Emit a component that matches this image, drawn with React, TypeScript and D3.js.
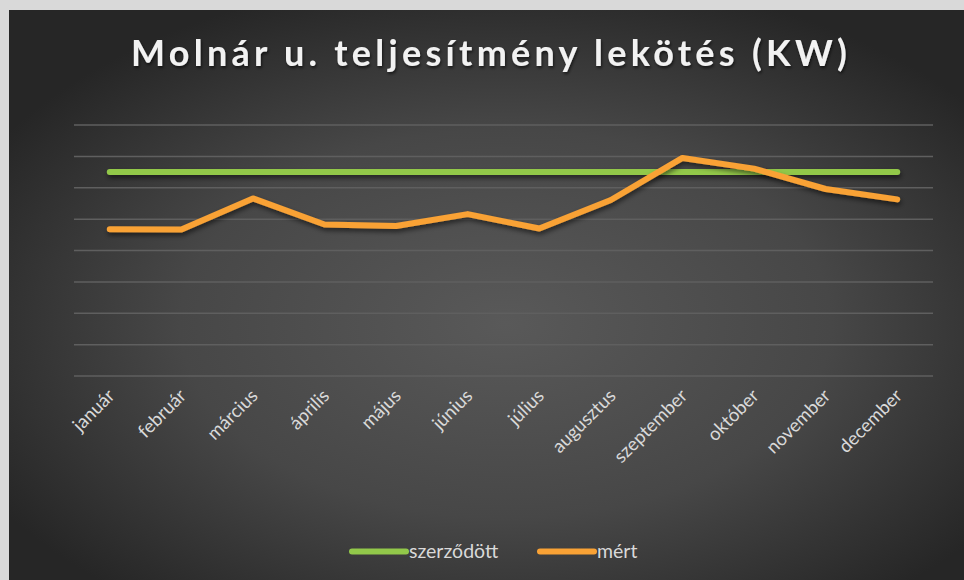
import React from "react";
import * as d3 from "d3";

const months = ["január","február","március","április","május","június","július","augusztus","szeptember","október","november","december"];
const contracted = [65,65,65,65,65,65,65,65,65,65,65,65];
const measured = [46.8,46.7,56.6,48.3,47.8,51.6,47.0,56.1,69.5,66.1,59.6,56.3];
const yTicks = [0,10,20,30,40,50,60,70,80];
const seriesNames = ["szerződött","mért"];
const colors = ["#92C84A","#F9A235"];

const W = 964, H = 580;
const plot = { left: 74, right: 933, top: 125, bottom: 376 };

export default function App() {
  const x = d3.scaleBand().domain(months).range([plot.left, plot.right]);
  const y = d3.scaleLinear().domain([0, 80]).range([plot.bottom, plot.top]);
  const cx = (m: string) => (x(m) as number) + x.bandwidth() / 2;
  const line = d3.line<number>().x((_, i) => cx(months[i])).y(d => y(d));
  const font = "'Lato', 'Open Sans', sans-serif";
  return (
    <div style={{ position: "absolute", left: 0, top: 0, width: W, height: H }}>
      <svg width={W} height={H} style={{ display: "block" }}>
        <defs>
          <radialGradient id="bg" cx="0.52" cy="0.55" r="0.62">
            <stop offset="0" stopColor="#595959" />
            <stop offset="0.55" stopColor="#474747" />
            <stop offset="1" stopColor="#262626" />
          </radialGradient>
          <filter id="sh" filterUnits="userSpaceOnUse" x={0} y={0} width={W} height={H}>
            <feDropShadow dx="1" dy="3" stdDeviation="2.5" floodColor="#000" floodOpacity="0.55" />
          </filter>
          <filter id="tsh" x="-5%" y="-30%" width="110%" height="160%">
            <feDropShadow dx="1" dy="2" stdDeviation="1.5" floodColor="#000" floodOpacity="0.6" />
          </filter>
        </defs>
        <rect x={0} y={0} width={W} height={H} fill="#d9d9d9" />
        <rect x={9} y={10} width={W - 9} height={H - 10} fill="url(#bg)" />
        <text x={489} y={66} textAnchor="middle" fill="#f2f2f2" fontFamily={font} fontWeight={700}
          fontSize={36} textLength={716} lengthAdjust="spacing" filter="url(#tsh)">
          Molnár u. teljesítmény lekötés (KW)
        </text>
        {yTicks.map(t => (
          <line key={t} x1={plot.left} x2={plot.right} y1={y(t)} y2={y(t)} stroke="#5f5f5f" strokeWidth={1.5} />
        ))}
        <path d={line(contracted) || ""} fill="none" stroke={colors[0]} strokeWidth={6} strokeLinecap="round" strokeLinejoin="round" filter="url(#sh)" />
        <path d={line(measured) || ""} fill="none" stroke={colors[1]} strokeWidth={6} strokeLinecap="round" strokeLinejoin="round" filter="url(#sh)" />
        {months.map(m => (
          <text key={m} transform={`translate(${cx(m) + 6},${397}) rotate(-45)`} textAnchor="end"
            fill="#d9d9d9" fontFamily={font} fontSize={18.5}>{m}</text>
        ))}
        {seriesNames.map((s, i) => {
          const lx = i === 0 ? 352 : 540;
          return (
            <g key={s}>
              <line x1={lx} x2={lx + 54} y1={551.5} y2={551.5} stroke={colors[i]} strokeWidth={6} strokeLinecap="round" />
              <text x={lx + 57} y={558} fill="#d9d9d9" fontFamily={font} fontSize={19.5}>{s}</text>
            </g>
          );
        })}
      </svg>
    </div>
  );
}
